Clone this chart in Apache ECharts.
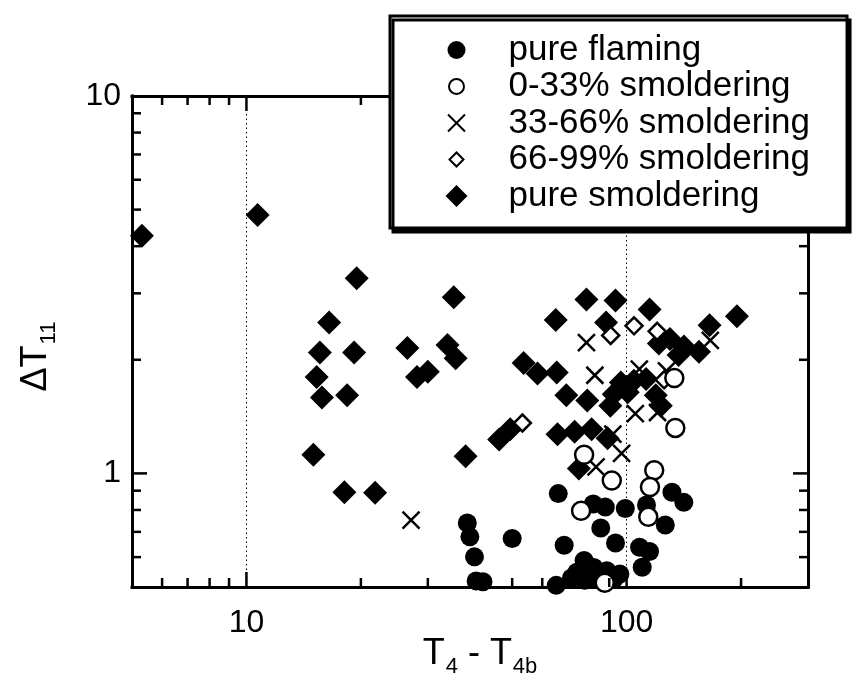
<!DOCTYPE html>
<html>
<head>
<meta charset="utf-8">
<script src="https://cdn.jsdelivr.net/npm/echarts@6/dist/echarts.min.js"></script>
<style>
html,body{margin:0;padding:0;background:#fff;}
#chart{width:852px;height:688px;}
</style>
</head>
<body>
<div id="chart"></div>
<script>
// ---- data (x = T4 - T4b, y = ΔT11) ----
var pureFlaming = [
  [38.1,0.739],[38.7,0.679],[39.8,0.601],[40.2,0.519],[41.9,0.516],[50.0,0.672],
  [66.1,0.884],[68.5,0.645],[65.3,0.505],[81.7,0.830],[87.9,0.814],[99.2,0.807],
  [85.5,0.717],[93.5,0.654],[108.2,0.637],[114.9,0.621],[109.9,0.564],[131.6,0.891],
  [141.4,0.838],[112.8,0.825],[126.4,0.730],[77.3,0.588],[74.0,0.547],[82.0,0.563],
  [88.7,0.552],[96.0,0.541],[83.5,0.526],[92.6,0.525],[77.6,0.521],[71.6,0.528]
];
var smolder0to33 = [
  [133.5,1.79],[134.3,1.32],[77.3,1.12],[91.4,0.958],[75.9,0.796],[118.2,1.02],
  [115.2,0.92],[114.0,0.767],[87.6,0.513]
];
var smolder33to66 = [
  [27.1,0.752],[78.4,2.22],[82.5,1.82],[92.0,1.27],[97.0,1.13],[83.1,1.04],
  [105.4,1.44],[120.6,1.45],[127.3,1.87],[166,2.25],[108,1.89]
];
var smolder66to99 = [
  [53.2,1.36],[90.8,2.32],[104.6,2.46],[120.3,2.38],[125.5,1.77]
];
var pureSmoldering = [
  [5.31,4.26],[10.7,4.84],[19.5,3.29],[16.5,2.51],[15.6,2.09],[19.2,2.09],
  [15.3,1.80],[15.8,1.59],[18.4,1.61],[15.0,1.12],[18.1,0.891],[21.8,0.889],
  [26.5,2.15],[28.1,1.80],[30.0,1.86],[35.1,2.93],[33.8,2.19],[35.5,2.02],
  [37.7,1.11],[46.2,1.23],[49.4,1.31],[65.1,2.55],[78.4,2.89],[93.5,2.87],
  [114.9,2.72],[88.3,2.51],[53.6,1.96],[58.3,1.84],[65.5,1.85],[69.4,1.61],
  [78.8,1.56],[65.8,1.27],[73.0,1.29],[80.9,1.31],[89.1,1.24],[74.9,1.03],
  [96.6,1.74],[104.5,1.76],[112.5,1.78],[92.5,1.62],[100.7,1.64],[90.6,1.51],
  [119.3,1.61],[123,1.51],[121.6,2.21],[130,2.27],[141.5,2.17],[155,2.10],
  [137,2.06],[165.3,2.47],[195.1,2.61]
];
var seriesNames = ['pure flaming','0-33% smoldering','33-66% smoldering','66-99% smoldering','pure smoldering'];
var xMin = 5, xMax = 300, yMin = 0.5, yMax = 10;
var xMajorTicks = [10, 100];
var xMinorTicks = [6,7,8,9,20,30,40,50,60,70,80,90,200];
var yMajorTicks = [1];
var yMinorTicks = [0.6,0.7,0.8,0.9,2,3,4,5,6,7,8,9];

var FONT = "'Liberation Sans', Arial, Helvetica, sans-serif";
var chart = echarts.init(document.getElementById('chart'), null, {renderer:'canvas'});

function isPow10(v){ var l = Math.log10(v); return Math.abs(l - Math.round(l)) < 1e-6; }

var xTickData = xMajorTicks.map(function(v){return [v, yMin, 1];})
  .concat(xMinorTicks.map(function(v){return [v, yMin, 0];}));
var yTickData = yMajorTicks.map(function(v){return [xMin, v, 1];})
  .concat(yMinorTicks.map(function(v){return [xMin, v, 0];}));

function tickSeries(data, dir){
  return {
    type:'custom', silent:true, clip:false, z:3,
    data:data, encode:{x:0,y:1},
    renderItem:function(params, api){
      var major = api.value(2), len = major ? 15 : 9;
      var st = {stroke:'#000', lineWidth:2.5};
      if (dir === 'x') {
        var v = api.value(0);
        var b = api.coord([v, yMin]), t = api.coord([v, yMax]);
        return {type:'group', children:[
          {type:'line', shape:{x1:b[0],y1:b[1],x2:b[0],y2:b[1]-len}, style:st},
          {type:'line', shape:{x1:t[0],y1:t[1],x2:t[0],y2:t[1]+len}, style:st}
        ]};
      } else {
        var w = api.value(1);
        var l = api.coord([xMin, w]), r = api.coord([xMax, w]);
        return {type:'group', children:[
          {type:'line', shape:{x1:l[0],y1:l[1],x2:l[0]+len,y2:l[1]}, style:st},
          {type:'line', shape:{x1:r[0],y1:r[1],x2:r[0]-len,y2:r[1]}, style:st}
        ]};
      }
    }
  };
}

var axisLineStyle = {show:true, onZero:false, lineStyle:{color:'#000', width:3, cap:'square'}};
var titleRich = {
  m:{fontSize:36, fontFamily:FONT, color:'#000', lineHeight:36},
  s:{fontSize:22, fontFamily:FONT, color:'#000', lineHeight:22, padding:[26,0,0,1]}
};

var X_PATH = 'path://M0 0L10 10M10 0L0 10';

var option = {
  animation:false,
  backgroundColor:'#fff',
  grid:{left:132, right:44, top:96, bottom:101, containLabel:false, outerBoundsMode:'none'},
  xAxis:[{
    type:'log', logBase:10, min:xMin, max:xMax, position:'bottom',
    axisLine:axisLineStyle, axisTick:{show:false}, minorTick:{show:false},
    splitLine:{show:true, lineStyle:{color:'#000', width:1, type:[1.5,3]}},
    axisLabel:{show:true, margin:20, fontSize:32, fontFamily:FONT, color:'#000',
      formatter:function(v){ return isPow10(v) ? String(Math.round(v)) : ''; }},
    name:'{m|T}{s|4}{m| - T}{s|4b}', nameLocation:'middle', nameGap:49, nameMoveOverlap:false,
    nameTextStyle:{rich:titleRich, padding:[0,0,0,20]}
  },{
    type:'log', logBase:10, min:xMin, max:xMax, position:'top',
    axisLine:axisLineStyle, axisTick:{show:false}, axisLabel:{show:false}, splitLine:{show:false}
  }],
  yAxis:[{
    type:'log', logBase:10, min:yMin, max:yMax, position:'left',
    axisLine:axisLineStyle, axisTick:{show:false}, minorTick:{show:false}, splitLine:{show:false},
    axisLabel:{show:true, margin:11, fontSize:32, fontFamily:FONT, color:'#000',
      formatter:function(v){ return isPow10(v) ? String(Math.round(v)) : ''; }},
    name:'{m|ΔT}{s|11}', nameLocation:'middle', nameGap:78, nameMoveOverlap:false,
    nameTextStyle:{rich:titleRich, padding:[0,30,0,0]}
  },{
    type:'log', logBase:10, min:yMin, max:yMax, position:'right',
    axisLine:axisLineStyle, axisTick:{show:false}, axisLabel:{show:false}, splitLine:{show:false}
  }],
  legend:{
    show:true, orient:'vertical', left:390, top:16,
    selectedMode:false,
    backgroundColor:'#fff', borderColor:'#000', borderWidth:3, borderRadius:0,
    shadowColor:'#000', shadowBlur:0, shadowOffsetX:3, shadowOffsetY:4,
    padding:[16,37,14,52], itemGap:0.5, itemWidth:24, itemHeight:24,
    textStyle:{fontSize:35, fontFamily:FONT, color:'#000', lineHeight:36, padding:[0,0,0,35]},
    data:[
      {name:seriesNames[0], icon:'path://M0 0M24 24M21 12A9 9 0 1 1 3 12A9 9 0 1 1 21 12Z',
        itemStyle:{color:'#000', borderWidth:0}},
      {name:seriesNames[1], icon:'path://M0 0M24 24M19.5 12A7.5 7.5 0 1 1 4.5 12A7.5 7.5 0 1 1 19.5 12Z',
        itemStyle:{color:'#fff', borderColor:'#000', borderWidth:2}},
      {name:seriesNames[2], icon:'path://M0 0M24 24M3.5 3.5L20.5 20.5M20.5 3.5L3.5 20.5',
        itemStyle:{color:'none', borderColor:'#000', borderWidth:2}},
      {name:seriesNames[3], icon:'path://M0 0M24 24M12 5L19 12L12 19L5 12Z',
        itemStyle:{color:'#fff', borderColor:'#000', borderWidth:2}},
      {name:seriesNames[4], icon:'path://M0 0M24 24M12 1L23 12L12 23L1 12Z',
        itemStyle:{color:'#000', borderWidth:0}}
    ]
  },
  series:[
    {name:seriesNames[4], type:'scatter', data:pureSmoldering, symbol:'diamond', symbolSize:24,
      itemStyle:{color:'#000', opacity:1}, z:2},
    {name:seriesNames[0], type:'scatter', data:pureFlaming, symbol:'circle', symbolSize:19,
      itemStyle:{color:'#000', opacity:1}, z:2},
    {name:seriesNames[2], type:'scatter', data:smolder33to66, symbol:X_PATH, symbolSize:17,
      itemStyle:{color:'none', borderColor:'#000', borderWidth:2.5, opacity:1}, z:2},
    {name:seriesNames[3], type:'scatter', data:smolder66to99, symbol:'diamond', symbolSize:17,
      itemStyle:{color:'#fff', borderColor:'#000', borderWidth:2.5, opacity:1}, z:2},
    {name:seriesNames[1], type:'scatter', data:smolder0to33, symbol:'circle', symbolSize:18,
      itemStyle:{color:'#fff', borderColor:'#000', borderWidth:2.5, opacity:1}, z:2},
    tickSeries(xTickData, 'x'),
    tickSeries(yTickData, 'y')
  ]
};
chart.setOption(option);
</script>
</body>
</html>
